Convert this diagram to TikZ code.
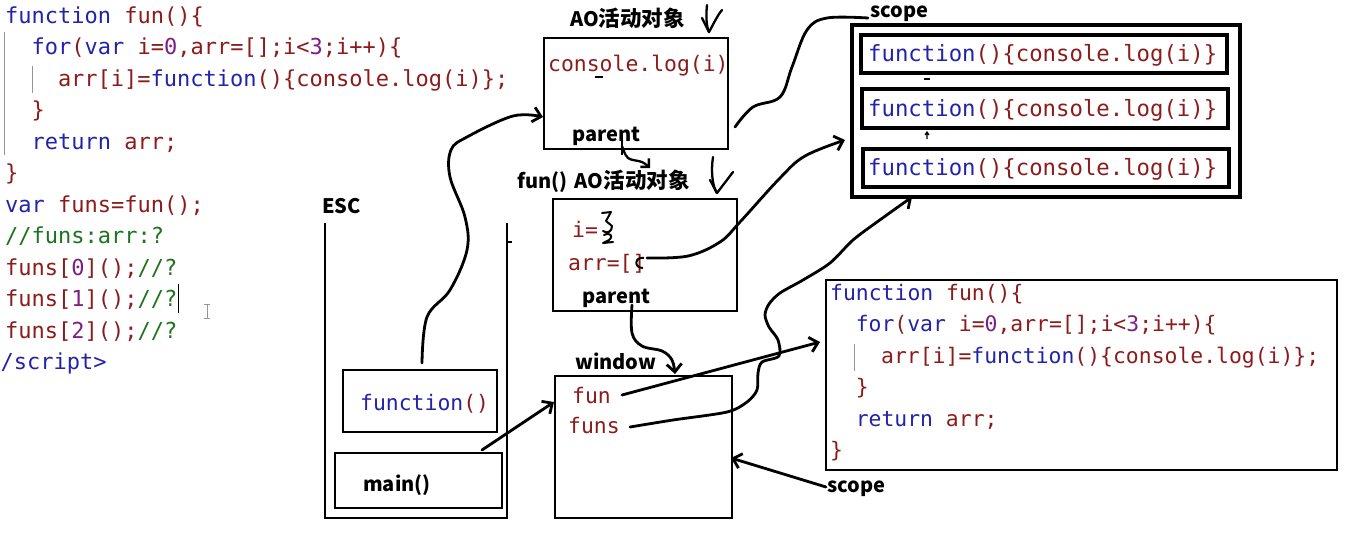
\documentclass[tikz,border=0pt]{standalone}
\usepackage{fontspec}
\usetikzlibrary{arrows.meta}
\newfontfamily\codefont{DejaVu Sans Mono}
\newfontfamily\lblfont{Noto Sans CJK SC}
\definecolor{kw}{RGB}{35,35,170}
\definecolor{idc}{RGB}{140,28,28}
\definecolor{num}{RGB}{125,30,135}
\definecolor{cmt}{RGB}{30,115,30}
\definecolor{guide}{RGB}{150,150,150}
\newcommand\Kw[1]{\textcolor{kw}{#1}}
\newcommand\Id[1]{\textcolor{idc}{#1}}
\newcommand\Nm[1]{\textcolor{num}{#1}}
\newcommand\Cm[1]{\textcolor{cmt}{#1}}
\newcommand\CJKbig[1]{{\fontsize{21.5}{20}\selectfont #1}}
\tikzset{
  code/.style={anchor=base west, inner sep=0pt, font=\codefont\fontsize{22}{22}\selectfont},
  codes/.style={anchor=base west, inner sep=0pt, font=\codefont\fontsize{21.4}{22}\selectfont},
  codeb/.style={anchor=base west, inner sep=0pt, font=\codefont\fontsize{22.3}{22}\selectfont},
  lbl/.style={anchor=base west, inner sep=0pt, font=\lblfont\bfseries\fontsize{20}{20}\selectfont},
  box/.style={draw, line width=2.8pt, inner sep=0pt},
  hand/.style={line width=2.8pt, line cap=round, line join=round},
  arr/.style={hand, -{Straight Barb[length=8pt,width=15pt]}},
}
\begin{document}
\begin{tikzpicture}[x=1pt,y=-1pt]
\fill[white] (0,0) rectangle (1360,558);
\useasboundingbox (0,0) rectangle (1360,558);

% ---------- left code ----------
\draw[guide, line width=1pt] (4,32)--(4,155);
\draw[guide, line width=1pt] (32,66)--(32,93);
\node[code] (L1) at (5,23) {\Kw{function} \Id{fun()\{}};
\node[code] (L2) at (31.4,54.5) {\Kw{for}\Id{(}\Kw{var} \Id{i=}\Nm{0}\Id{,arr=[];i<}\Nm{3}\Id{;i++)\{}};
\node[code] (L3) at (57.8,86) {\Id{arr[i]=}\Kw{function}\Id{()\{console.log(i)\};}};
\node[code] (L4) at (31.4,117.5) {\Id{\}}};
\node[code] (L5) at (31.4,149) {\Kw{return} \Id{arr;}};
\node[code] (L6) at (5,180.5) {\Id{\}}};
\node[code] (L7) at (5,212) {\Kw{var} \Id{funs=fun();}};
\node[code] (L8) at (5,243.5) {\Cm{//funs:arr:?}};
\node[code] (L9) at (5,275) {\Id{funs[}\Nm{0}\Id{]();}\Cm{//?}};
\node[code] (L10) at (5,306.5) {\Id{funs[}\Nm{1}\Id{]();}\Cm{//?}};
\node[code] (L11) at (5,338) {\Id{funs[}\Nm{2}\Id{]();}\Cm{//?}};
\node[code] (L12) at (0.5,369.5) {\Kw{/script>}};
\draw[line width=1pt] (178,284)--(178,313);
\draw[guide, line width=0.9pt] (204,304)--(210,304) (207,304)--(207,318) (204,318)--(210,318);

% ---------- ESC stack ----------
\node[lbl] (esc) at (322,213) {ESC};
\draw[line width=2.8pt] (325,223)--(325,518)--(507,518)--(507,223);
\draw[line width=1.5pt] (507,242)--(512,242);
\node[box, minimum width=154pt, minimum height=62pt] (fbox) at (420,401) {};
\node[codes] (ftxt) at (360,410) {\Kw{function}\Id{()}};
\node[box, minimum width=167pt, minimum height=55pt] (mainbox) at (418.5,480.5) {};
\node[lbl] (maintxt) at (363,491) {main()};

% ---------- AO box ----------
\node[lbl] (aolbl) at (570,26) {AO\CJKbig{活动对象}};
\node[box, minimum width=184pt, minimum height=111pt] (AO) at (636,93.5) {};
\node[codes] (aotxt) at (548,71) {\Id{console.log(i)}};
\node[lbl] (aopar) at (572,141) {parent};
\draw[line width=1.5pt] (595,77)--(603,77);

% ---------- fun() AO box ----------
\node[lbl] (funlbl) at (517,188) {fun()\hspace{3pt} AO\CJKbig{活动对象}};
\node[box, minimum width=184pt, minimum height=112pt] (FA) at (645,255) {};
\node[codes] (itxt) at (572,237) {\Id{i=}};
\node[codes] (arrtxt) at (568,270) {\Id{arr=[]}};
\node[lbl] (fapar) at (582,303) {parent};
\draw[line width=2pt, line cap=round, line join=round] (602,213)--(611,212)--(606,221)--(612,226) .. controls (612,232) and (607,234) .. (603,231);
\draw[line width=2pt, line cap=round, line join=round] (604,235) .. controls (610,232) and (614,236) .. (609,240) -- (603,243) -- (613,242);
\draw[line width=2pt] (644,258) .. controls (635,256) and (633,268) .. (643,268);

% ---------- window box ----------
\node[lbl] (winlbl) at (575,369) {window};
\node[box, minimum width=177pt, minimum height=142pt] (WIN) at (643.5,447) {};
\node[codes] (funtxt) at (572,403) {\Id{fun}};
\node[codes] (funstxt) at (568,433) {\Id{funs}};

% ---------- scope box ----------
\node[lbl] (scopetop) at (870,17) {scope};
\node[draw, line width=4.8pt, minimum width=388pt, minimum height=172pt, inner sep=0pt] (SC) at (1046,111) {};
\node[box, line width=3.4pt, minimum width=366pt, minimum height=38pt] (s1) at (1044,54) {};
\node[box, line width=3.4pt, minimum width=366pt, minimum height=39pt] (s2) at (1045,108.5) {};
\node[box, line width=3.4pt, minimum width=366pt, minimum height=38pt] (s3) at (1046,168) {};
\node[codeb] (s1t) at (868,61) {\Kw{function}\Id{()\{console.log(i)\}}};
\node[codeb] (s2t) at (868,116) {\Kw{function}\Id{()\{console.log(i)\}}};
\node[codeb] (s3t) at (868,175) {\Kw{function}\Id{()\{console.log(i)\}}};
\draw[line width=1.5pt] (924,79)--(930,79);
\draw[line width=1.2pt] (927,139)--(927,133) (925,135)--(927,132)--(929,135);

% ---------- right code box ----------
\node[box, minimum width=511pt, minimum height=190pt] (CB) at (1081.5,375) {};
\draw[guide, line width=1pt] (854,344)--(854,371);
\node[codes] (R1) at (830,300) {\Kw{function} \Id{fun()\{}};
\node[codes] (R2) at (855.6,331.5) {\Kw{for}\Id{(}\Kw{var} \Id{i=}\Nm{0}\Id{,arr=[];i<}\Nm{3}\Id{;i++)\{}};
\node[codes] (R3) at (881,363) {\Id{arr[i]=}\Kw{function}\Id{()\{console.log(i)\};}};
\node[codes] (R4) at (855.6,394.5) {\Id{\}}};
\node[codes] (R5) at (855.6,426) {\Kw{return} \Id{arr;}};
\node[codes] (R6) at (830,457.5) {\Id{\}}};
\node[lbl] (scopebot) at (827,492) {scope};

% ---------- hand drawn down arrows ----------
\draw[hand, line width=2.3pt] (707,5) .. controls (706,15) and (706,25) .. (709,32);
\draw[hand, line width=2.3pt] (702,18) -- (709,32) .. controls (713,25) and (717,16) .. (722,10);
\draw[hand, line width=2.3pt] (713,157) .. controls (711,170) and (712,186) .. (717,193);
\draw[hand, line width=2.3pt] (710,180) -- (717,193) -- (733,172);

% ---------- connectors ----------
\coordinate (c1s) at (422,363);
\coordinate (c1e) at (543,117);
\draw[arr] plot[smooth, tension=0.6] coordinates {(c1s) (427,317) (450,290) (467,250) (465,217) (450,177) (451,150) (467,137) (513,116) (c1e)};

\coordinate (c2s) at (735,127);
\coordinate (c2e) at (868,18);
\draw[hand] plot[smooth, tension=0.6] coordinates {(c2s) (753,107) (780,97) (792,67) (807,30) (827,18) (c2e)};

\coordinate (c3s) at (622,146);
\coordinate (c3e) at (650,168);
\draw[line width=1.5pt] (622,141)--(622,155);
\draw[hand, line width=2.3pt, -{Straight Barb[length=6pt,width=12pt]}] plot[smooth, tension=0.6] coordinates {(c3s) (628,158) (642,162) (c3e)};

\coordinate (c4s) at (647,258);
\coordinate (c4e) at (845,140);
\draw[arr] plot[smooth, tension=0.6] coordinates {(c4s) (688,256) (720,242) (740,222) (780,178) (805,156) (c4e)};

\coordinate (c5s) at (622,395);
\coordinate (c5e) at (820,342);
\draw[arr] (c5s) -- (c5e);

\coordinate (c6s) at (630,427);
\coordinate (c6e) at (912,197);
\draw[arr] plot[smooth, tension=0.5] coordinates {(c6s) (673,420) (727,412) (747,402) (757,390) (758,373) (762,362) (779,356) (778,340) (769,327) (765,315) (769,304) (780,293) (803,280) (830,263) (853,240) (877,222) (c6e)};

\coordinate (c7s) at (826,487);
\coordinate (c7e) at (731,458);
\draw[arr] (c7s) -- (c7e);

\coordinate (c8s) at (632,305);
\coordinate (c8e) at (675,374);
\draw[arr] plot[smooth, tension=0.6] coordinates {(c8s) (632,333) (642,346) (662,351) (672,360) (c8e)};

\coordinate (c9s) at (482,450);
\coordinate (c9e) at (554,402);
\draw[arr] (c9s) -- (c9e);
\end{tikzpicture}
\end{document}
